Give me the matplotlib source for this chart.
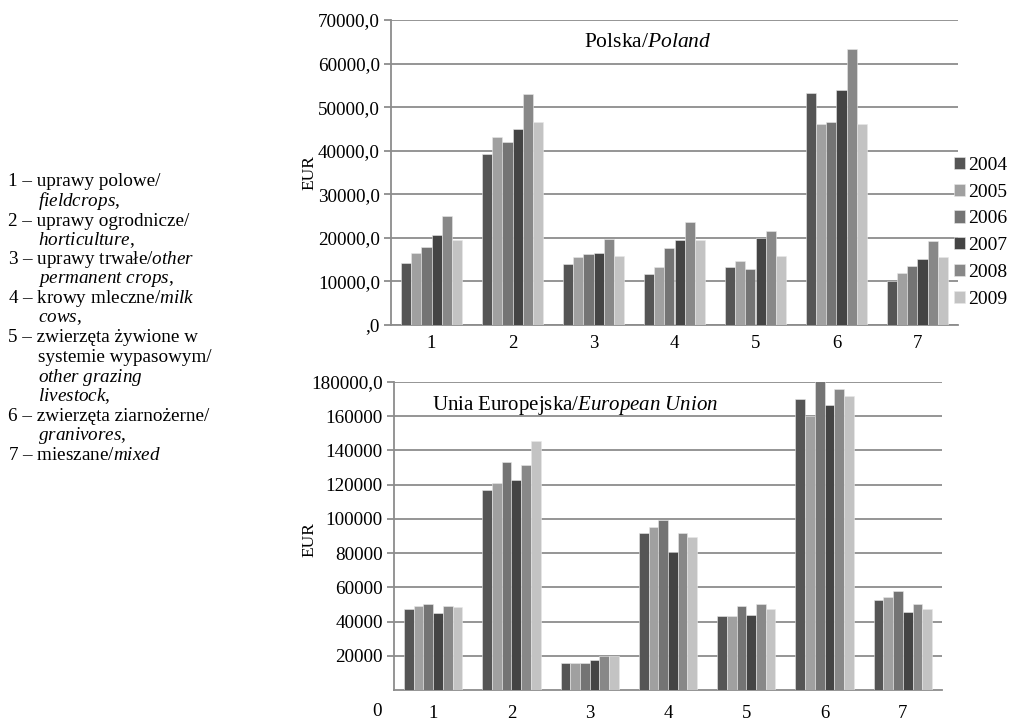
import matplotlib
matplotlib.use("Agg")
import matplotlib.pyplot as plt
import numpy as np

plt.rcParams["font.family"] = ["Liberation Serif", "DejaVu Serif"]
plt.rcParams["mathtext.fontset"] = "custom"
plt.rcParams["mathtext.rm"] = "Liberation Serif"
plt.rcParams["mathtext.it"] = "Liberation Serif:italic"

# data
categories = ["1", "2", "3", "4", "5", "6", "7"]
years = ["2004", "2005", "2006", "2007", "2008", "2009"]
colors = ["#555555", "#a0a0a0", "#747474", "#444444", "#888888", "#c3c3c3"]

# Polska / Poland, one list per year, values for categories 1..7
poland = {
    "2004": [14200, 39200, 13900, 11800, 13200, 53300, 10100],
    "2005": [16500, 43200, 15500, 13200, 14800, 46200, 11900],
    "2006": [17800, 41900, 16200, 17600, 12800, 46600, 13500],
    "2007": [20600, 44900, 16500, 19500, 20000, 54000, 15200],
    "2008": [25000, 53000, 19800, 23600, 21600, 63400, 19300],
    "2009": [19500, 46600, 15800, 19500, 15800, 46200, 15600],
}

# Unia Europejska / European Union
eu = {
    "2004": [47400, 116600, 16000, 92000, 43100, 169900, 52700],
    "2005": [49100, 120900, 16000, 95500, 43100, 159900, 54400],
    "2006": [50100, 133200, 16000, 99300, 49100, 182000, 57900],
    "2007": [44900, 122700, 17700, 80700, 44100, 166300, 45600],
    "2008": [49100, 131600, 19700, 92000, 50100, 176100, 50100],
    "2009": [48600, 145500, 19700, 89500, 47600, 171600, 47600],
}

top_ticks = [0, 10000, 20000, 30000, 40000, 50000, 60000, 70000]
top_labels = [",0", "10000,0", "20000,0", "30000,0", "40000,0", "50000,0", "60000,0", "70000,0"]
bot_ticks = [20000, 40000, 60000, 80000, 100000, 120000, 140000, 160000, 180000]
bot_labels = ["20000", "40000", "60000", "80000", "100000", "120000", "140000", "160000", "180000,0"]

legend_lines = [
    ("1 – uprawy polowe/", 0),
    (r"$\mathit{fieldcrops}$,", 1),
    ("2 – uprawy ogrodnicze/", 0),
    (r"$\mathit{horticulture}$,", 1),
    (r"3 – uprawy trwałe/$\mathit{other}$", 0),
    (r"$\mathit{permanent\ crops}$,", 1),
    (r"4 – krowy mleczne/$\mathit{milk}$", 0),
    (r"$\mathit{cows}$,", 1),
    ("5 – zwierzęta żywione w", 0),
    ("systemie wypasowym/", 1),
    (r"$\mathit{other\ grazing}$", 1),
    (r"$\mathit{livestock}$,", 1),
    ("6 – zwierzęta ziarnożerne/", 0),
    (r"$\mathit{granivores}$,", 1),
    (r"7 – mieszane/$\mathit{mixed}$", 0),
]

W, H = 1030, 722
fig = plt.figure(figsize=(W / 100, H / 100), dpi=100)


def px_axes(l, t, r, b):
    return fig.add_axes([l / W, 1 - b / H, (r - l) / W, (b - t) / H])


def draw_bars(ax, data):
    x = np.arange(1, len(categories) + 1)
    w = 0.124
    bars = []
    for i, y in enumerate(years):
        b = ax.bar(x + (i - 2.5) * w, data[y], width=w, color=colors[i],
                   edgecolor="#e8e8e8", linewidth=0.4, zorder=3, label=y)
        bars.append(b)
    ax.set_xlim(0.5, len(categories) + 0.5)
    ax.set_xticks(x)
    ax.set_xticklabels(categories)
    ax.grid(axis="y", color="#8c8c8c", linewidth=1.3, zorder=0)
    for s in ["top", "right"]:
        ax.spines[s].set_visible(False)
    for s in ["left", "bottom"]:
        ax.spines[s].set_color("#8c8c8c")
        ax.spines[s].set_linewidth(1.3)
    ax.tick_params(axis="x", length=0, labelsize=13.5)
    ax.tick_params(axis="y", length=5, color="#8c8c8c", width=1.3, labelsize=13.8, pad=3)
    return bars


ax1 = px_axes(391, 20, 958, 325)
bars = draw_bars(ax1, poland)
ax1.set_ylim(0, 70000)
ax1.set_yticks(top_ticks)
ax1.set_yticklabels(top_labels)
ax1.tick_params(axis="x", pad=7)
ax1.text(0.453, 0.925, r"Polska/$\mathit{Poland}$", transform=ax1.transAxes,
         ha="center", va="center", fontsize=15.5)

ax2 = px_axes(394, 382, 942, 690)
draw_bars(ax2, eu)
ax2.set_ylim(0, 180000)
ax2.set_yticks(bot_ticks)
ax2.set_yticklabels(bot_labels)
ax2.tick_params(axis="x", pad=11)
ax2.text(0.07, 0.925, r"Unia Europejska/$\mathit{European\ Union}$", transform=ax2.transAxes,
         ha="left", va="center", fontsize=15)
fig.text(377 / W, 1 - 712 / H, "0", ha="center", va="center", fontsize=13.8)

fig.text(309 / W, 1 - 173 / H, "EUR", rotation=90, ha="center", va="center", fontsize=12.5)
fig.text(309 / W, 1 - 540 / H, "EUR", rotation=90, ha="center", va="center", fontsize=12.5)

fig.legend(handles=bars, labels=years, loc="upper left",
           bbox_to_anchor=(946 / W, 1 - 149 / H), frameon=False, fontsize=14,
           handlelength=0.6, handleheight=0.6, handletextpad=0.15,
           labelspacing=0.5, borderaxespad=0)

y = 182
for txt, indent in legend_lines:
    fig.text((8 if indent == 0 else 38) / W, 1 - y / H, txt, ha="left", va="center",
             fontsize=13.8)
    y += 19.5

fig.savefig("out.png", dpi=100)
